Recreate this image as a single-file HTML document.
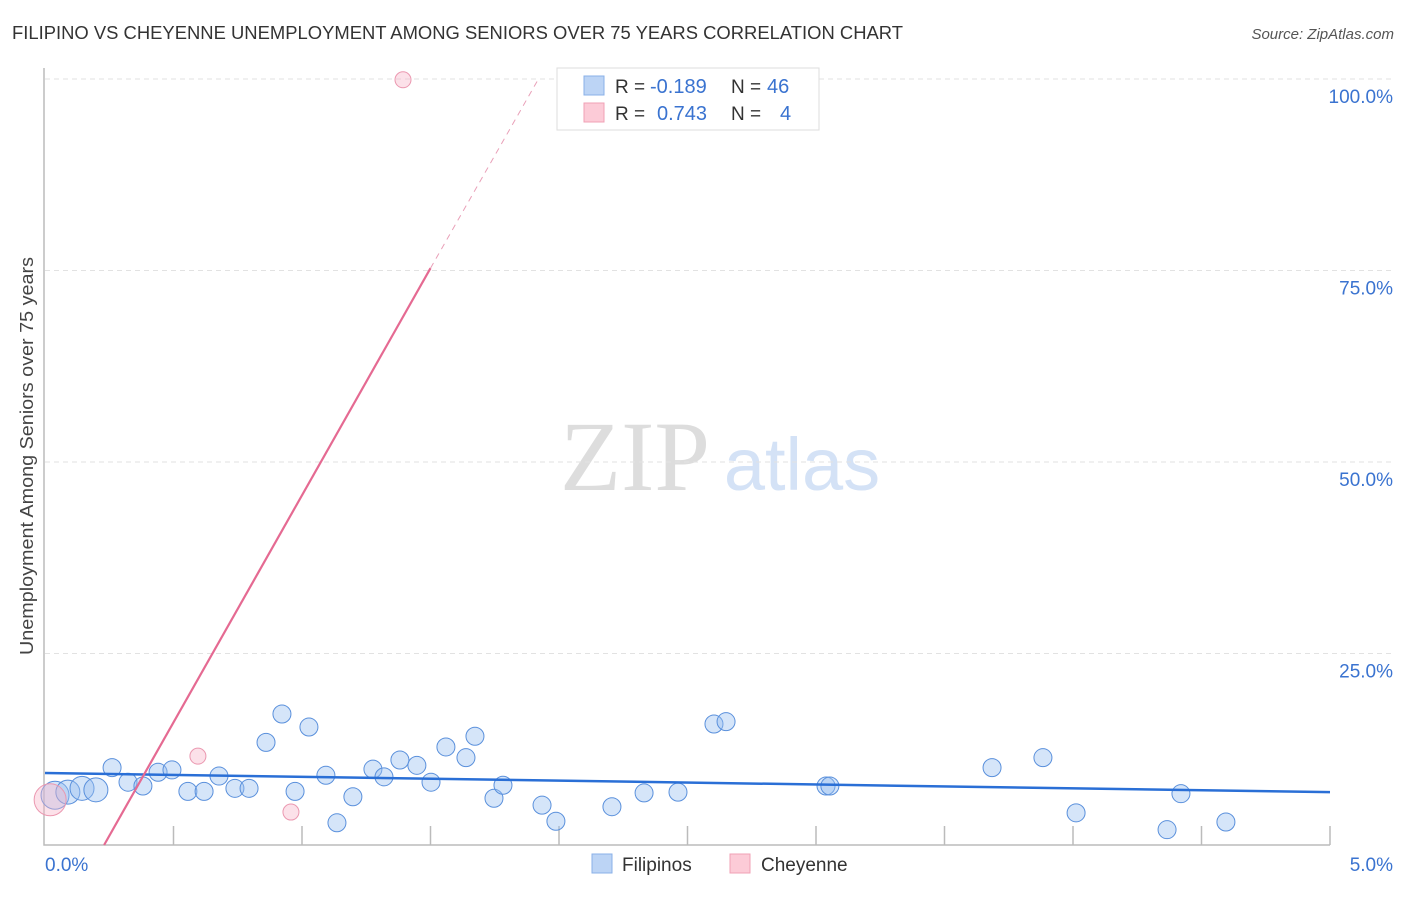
<!DOCTYPE html>
<html><head><meta charset="utf-8">
<style>
body{margin:0;background:#fff;font-family:"Liberation Sans",sans-serif;}
</style></head>
<body>
<svg id="chart" width="1406" height="892" xmlns="http://www.w3.org/2000/svg" font-family="Liberation Sans, sans-serif">
<text x="12" y="39" font-size="18" fill="#333" textLength="891" lengthAdjust="spacingAndGlyphs">FILIPINO VS CHEYENNE UNEMPLOYMENT AMONG SENIORS OVER 75 YEARS CORRELATION CHART</text>
<text x="1394" y="39" font-size="15" fill="#555" text-anchor="end" font-style="italic">Source: ZipAtlas.com</text>
<text transform="translate(33,456) rotate(-90)" font-size="18" fill="#444" text-anchor="middle" textLength="398" lengthAdjust="spacingAndGlyphs">Unemployment Among Seniors over 75 years</text>
<g>
<text x="635" y="490" font-size="100" fill="#ddd" text-anchor="middle" style="font-family:'Liberation Serif',serif">ZIP</text>
<text x="802" y="490" font-size="74" fill="#d4e2f6" text-anchor="middle">atlas</text>
</g>
<g id="grid"></g><g id="axes"></g><g id="marks"></g>
<g>
<rect x="557" y="68" width="262" height="62" fill="#fff" stroke="#ddd"/>
<rect x="584" y="76" width="20" height="19" fill="#bcd4f5" stroke="#8ab0e8"/>
<text x="615" y="93" font-size="19" fill="#333">R = </text>
<text x="650" y="93" font-size="20" fill="#3a73d0">-0.189</text>
<text x="731" y="93" font-size="19" fill="#333">N = </text>
<text x="767" y="93" font-size="20" fill="#3a73d0">46</text>
<rect x="584" y="103" width="20" height="19" fill="#fccbd7" stroke="#f0a0b6"/>
<text x="615" y="120" font-size="19" fill="#333">R = </text>
<text x="657" y="120" font-size="20" fill="#3a73d0">0.743</text>
<text x="731" y="120" font-size="19" fill="#333">N = </text>
<text x="780" y="120" font-size="20" fill="#3a73d0">4</text>
</g>
<g>
<rect x="592" y="854" width="20" height="19" fill="#bcd4f5" stroke="#8ab0e8"/>
<text x="622" y="871" font-size="19" fill="#333">Filipinos</text>
<rect x="730" y="854" width="20" height="19" fill="#fccbd7" stroke="#f0a0b6"/>
<text x="761" y="871" font-size="19" fill="#333">Cheyenne</text>
</g>
</svg>
<script>
const blueX=[0.039,0.089,0.144,0.198,0.261,0.323,0.381,0.44,0.494,0.556,0.619,0.677,0.739,0.794,0.86,0.922,0.973,1.027,1.093,1.136,1.198,1.276,1.319,1.381,1.447,1.502,1.56,1.638,1.673,1.747,1.782,1.934,1.988,2.206,2.331,2.463,2.603,2.65,3.039,3.054,3.685,3.883,4.012,4.366,4.42,4.595];
const blueY=[6.5,6.9,7.4,7.2,10.1,8.2,7.7,9.5,9.8,7.0,7.0,9.0,7.4,7.4,13.4,17.1,7.0,15.4,9.1,2.9,6.3,9.9,8.9,11.1,10.4,8.2,12.8,11.4,14.2,6.1,7.8,5.2,3.1,5.0,6.8,6.9,15.8,16.1,7.7,7.7,10.1,11.4,4.2,2.0,6.7,3.0];
const blueR=[14,12,12,12,9,9,9,9,9,9,9,9,9,9,9,9,9,9,9,9,9,9,9,9,9,9,9,9,9,9,9,9,9,9,9,9,9,9,9,9,9,9,9,9,9,9];
const pinkX=[0.02,0.595,0.957,1.393];
const pinkY=[5.9,11.6,4.3,99.9];
const pinkR=[16,8,8,8];
const blueTrend=[9.4,6.9];
const pinkTrendX=[0.23,1.5,1.92];
const pinkTrendY=[0,75.3,100];
const yTicks=[25,50,75,100];
const xTickLabels=["0.0%","5.0%"];
const NS="http://www.w3.org/2000/svg";
const X=v=>45+v*257, Y=v=>845-v*7.66;
function mk(parent,tag,a){const e=document.createElementNS(NS,tag);for(const k in a)e.setAttribute(k,a[k]);document.getElementById(parent).appendChild(e);return e;}
yTicks.forEach(t=>{
 const g=mk('grid','line',{x1:45,x2:1394,y1:Y(t),y2:Y(t),stroke:'#e2e2e2','stroke-dasharray':'5,4'});
 
 
 const l=mk('axes','text',{x:1393,y:Y(t)+24,'font-size':19,fill:'#3a73d0','text-anchor':'end'});
 l.textContent=t.toFixed(1)+'%';
 
 
});
const ax=mk('axes','path',{d:`M44,68 V845 H1330`,fill:'none',stroke:'#bbb','stroke-width':1.5});


for(let i=1;i<=10;i++){const t=mk('axes','line',{x1:X(i*0.5),x2:X(i*0.5),y1:826,y2:845,stroke:'#bbb','stroke-width':1.5});
 
 }
const xl0=mk('axes','text',{x:45,y:871,'font-size':19,fill:'#3a73d0'});xl0.textContent=xTickLabels[0];


const xl1=mk('axes','text',{x:1393,y:871,'font-size':19,fill:'#3a73d0','text-anchor':'end'});xl1.textContent=xTickLabels[1];


blueX.forEach((v,i)=>{const c=mk('marks','circle',{cx:X(v),cy:Y(blueY[i]),r:blueR[i],fill:'rgba(150,190,240,0.4)',stroke:'#5a90dc','stroke-width':1});
 
 });
pinkX.forEach((v,i)=>{const c=mk('marks','circle',{cx:X(v),cy:Y(pinkY[i]),r:pinkR[i],fill:'rgba(248,180,200,0.4)',stroke:'#eb98b0','stroke-width':1});
 
 });
const bt=mk('marks','line',{x1:X(0),y1:Y(blueTrend[0]),x2:X(5),y2:Y(blueTrend[1]),stroke:'#2a6fd6','stroke-width':2.5});


const pt=mk('marks','line',{x1:X(pinkTrendX[0]),y1:Y(pinkTrendY[0]),x2:X(pinkTrendX[1]),y2:Y(pinkTrendY[1]),stroke:'#e56a92','stroke-width':2.2});


const pd=mk('marks','line',{x1:X(pinkTrendX[1]),y1:Y(pinkTrendY[1]),x2:X(pinkTrendX[2]),y2:Y(pinkTrendY[2]),stroke:'#e9a0b8','stroke-width':1,'stroke-dasharray':'6,5'});


</script>
</body></html>
